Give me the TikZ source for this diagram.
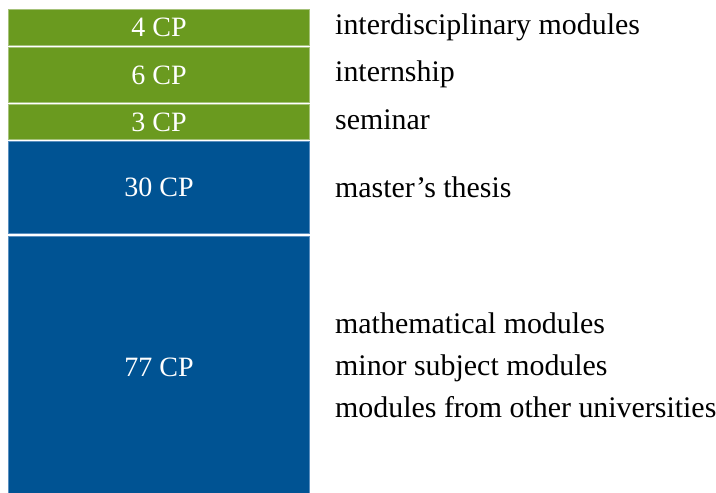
\documentclass[tikz,border=0pt]{standalone}
\usepackage{fontspec}
\setmainfont{Liberation Serif}
\definecolor{cpgreen}{HTML}{6A9A1F}
\definecolor{cpgreenline}{HTML}{A6C27A}
\definecolor{cpblue}{HTML}{005393}
\definecolor{cpblueline}{HTML}{5A8FC0}
\begin{document}
\begin{tikzpicture}[x=1pt,y=-1pt,
  box/.style={anchor=north west,minimum width=301pt,inner sep=0pt,outer sep=0pt,
    line width=1pt,text=white,font=\fontsize{28}{33}\selectfont},
  gbox/.style={box,fill=cpgreen,draw=cpgreenline},
  bbox/.style={box,fill=cpblue,draw=cpblueline},
  lbl/.style={anchor=base west,inner sep=0pt,font=\fontsize{29.9}{35}\selectfont}]
\useasboundingbox (0,0) rectangle (716,493);
\begin{scope}
\clip (0,0) rectangle (716,493);
\node[gbox,minimum height=36pt] (b1) at (8.5,9.5) {4 CP};
\node[gbox,minimum height=55pt] (b2) at (8.5,47.5) {6 CP};
\node[gbox,minimum height=35pt] (b3) at (8.5,104.5) {3 CP};
\node[bbox,minimum height=92pt] (b4) at (8.5,141.5) {30 CP};
\node[bbox,minimum height=262pt] (b5) at (8.5,236.5) {77 CP};
\end{scope}
\node[lbl] (t1) at (335,34) {interdisciplinary modules};
\node[lbl] (t2) at (335,81) {internship};
\node[lbl] (t3) at (335,129) {seminar};
\node[lbl] (t4) at (335,197) {master’s thesis};
\node[lbl] (t5) at (335,333.5) {mathematical modules};
\node[lbl] (t6) at (335,375.5) {minor subject modules};
\node[lbl] (t7) at (335,417.5) {modules from other universities};
\end{tikzpicture}
\end{document}
